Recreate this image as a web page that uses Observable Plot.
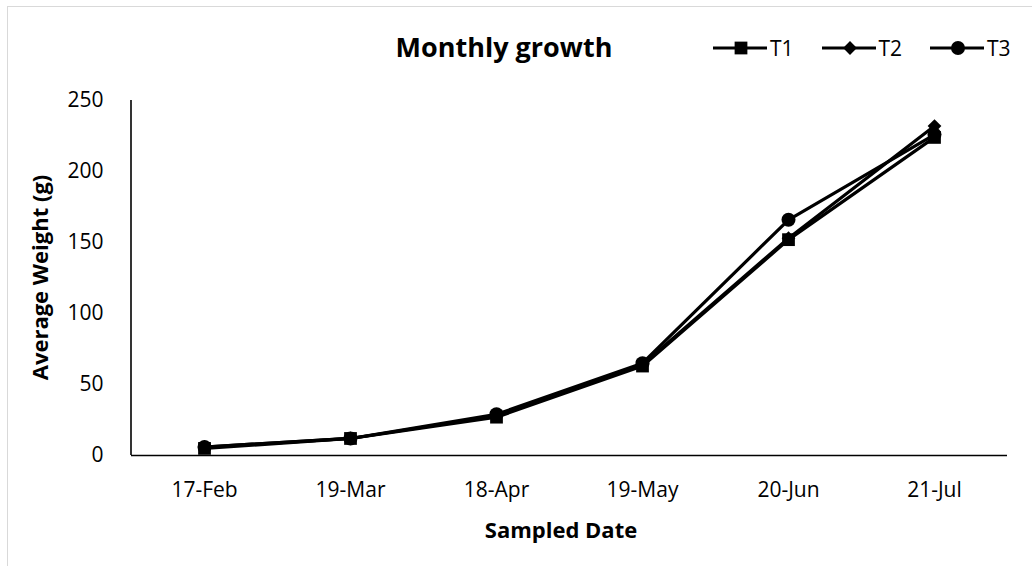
<!DOCTYPE html>
<html>
<head>
<meta charset="utf-8">
<script src="https://cdn.jsdelivr.net/npm/d3@7"></script>
<script src="https://cdn.jsdelivr.net/npm/@observablehq/plot@0.6"></script>
<style>
  html, body { margin: 0; padding: 0; background: #fff; }
  #wrap { position: relative; width: 1032px; height: 566px; overflow: hidden; font-family: "Open Sans", sans-serif; }
  #border { position: absolute; left: 7px; top: 6px; width: 1040px; height: 600px; border: 1px solid #d9d9d9; box-sizing: border-box; }
  #title { position: absolute; left: 0; width: 1008px; text-align: center; top: 33px; font-size: 27px; line-height: 1; font-weight: bold; color: #000; }
  #legend { position: absolute; top: 36px; left: 713px; display: flex; gap: 0; font-size: 21px; line-height: 24px; color: #000; align-items: center; }
  #legend .item { display: flex; align-items: center; gap: 3px; width: 108.5px; }
  #chart { position: absolute; left: 0; top: 0; }
</style>
</head>
<body>
<div id="wrap">
  <div id="border"></div>
  <div id="chart"></div>
  <div id="title"></div>
  <div id="legend"></div>
</div>
<script>
const titleText = "Monthly growth";
const xLabel = "Sampled Date";
const yLabel = "Average Weight (g)";
const dates = ["17-Feb", "19-Mar", "18-Apr", "19-May", "20-Jun", "21-Jul"];
const seriesNames = ["T1", "T2", "T3"];
const seriesSymbols = ["square", "diamond2", "circle"];
const t1 = [5, 12, 27, 63, 152, 224];
const t2 = [6, 12, 28, 64, 153, 232];
const t3 = [6, 12, 29, 65, 166, 226];
const yTicks = [0, 50, 100, 150, 200, 250];

const seriesValues = [t1, t2, t3];
const markerR = {T1: 7.2, T2: 6.2, T3: 7};
const rows = [];
seriesNames.forEach((s, i) => {
  dates.forEach((d, j) => rows.push({series: s, date: d, value: seriesValues[i][j]}));
});

const FONT = "'Open Sans', sans-serif";
const chart = Plot.plot({
  width: 1032,
  height: 566,
  marginLeft: 131,
  marginRight: 25,
  marginTop: 100,
  marginBottom: 111,
  style: {fontFamily: FONT, fontSize: "21px", color: "#000", background: "transparent"},
  x: {type: "point", domain: dates, padding: 0.5, label: null},
  y: {domain: [0, 250], ticks: yTicks, label: null},
  symbol: {domain: seriesNames, range: seriesSymbols},
  marks: [
    Plot.axisX({tickSize: 0, tickPadding: 27, fontSize: 21, label: null}),
    Plot.axisY({ticks: yTicks, tickSize: 0, tickPadding: 28, fontSize: 21, label: null}),
    Plot.ruleY([0], {stroke: "#000", strokeWidth: 1.6}),
    Plot.line(rows, {x: "date", y: "value", z: "series", stroke: "#000", strokeWidth: 3.2}),
    ...seriesNames.map(s =>
      Plot.dot(rows.filter(d => d.series === s), {x: "date", y: "value", symbol: "series", fill: "#000", stroke: "none", r: markerR[s]})
    )
  ]
});

// left axis line at the frame edge, from the plot's own scales
const xr = chart.scale("x").range;
const yr = chart.scale("y").range;
const svg = d3.select(chart);
svg.append("line")
  .attr("x1", xr[0]).attr("x2", xr[0])
  .attr("y1", yr[0]).attr("y2", yr[1])
  .attr("stroke", "#000").attr("stroke-width", 1.6);
// axis titles
const xMid = (xr[0] + xr[1]) / 2 - 8;
svg.append("text")
  .attr("x", xMid).attr("y", 538)
  .attr("text-anchor", "middle")
  .style("font-weight", "bold").style("font-size", "22px")
  .attr("fill", "#000")
  .text(xLabel);
const yMid = (yr[0] + yr[1]) / 2;
svg.append("text")
  .attr("transform", `translate(48,${yMid}) rotate(-90)`)
  .attr("text-anchor", "middle")
  .style("font-weight", "bold").style("font-size", "22px")
  .attr("fill", "#000")
  .text(yLabel);

document.getElementById("chart").appendChild(chart);
document.getElementById("title").textContent = titleText;

// legend
const legend = d3.select("#legend");
const symMap = {square: d3.symbolSquare, diamond2: d3.symbolDiamond2, circle: d3.symbolCircle};
seriesNames.forEach((s, i) => {
  const item = legend.append("div").attr("class", "item");
  const sv = item.append("svg").attr("width", 54).attr("height", 20);
  sv.append("line").attr("x1", 0).attr("x2", 54).attr("y1", 10).attr("y2", 10)
    .attr("stroke", "#000").attr("stroke-width", 3.2);
  sv.append("path").attr("transform", "translate(28,10)")
    .attr("d", d3.symbol(symMap[seriesSymbols[i]], Math.PI * markerR[s] * markerR[s])())
    .attr("fill", "#000");
  item.append("span").text(s);
});
</script>
</body>
</html>
